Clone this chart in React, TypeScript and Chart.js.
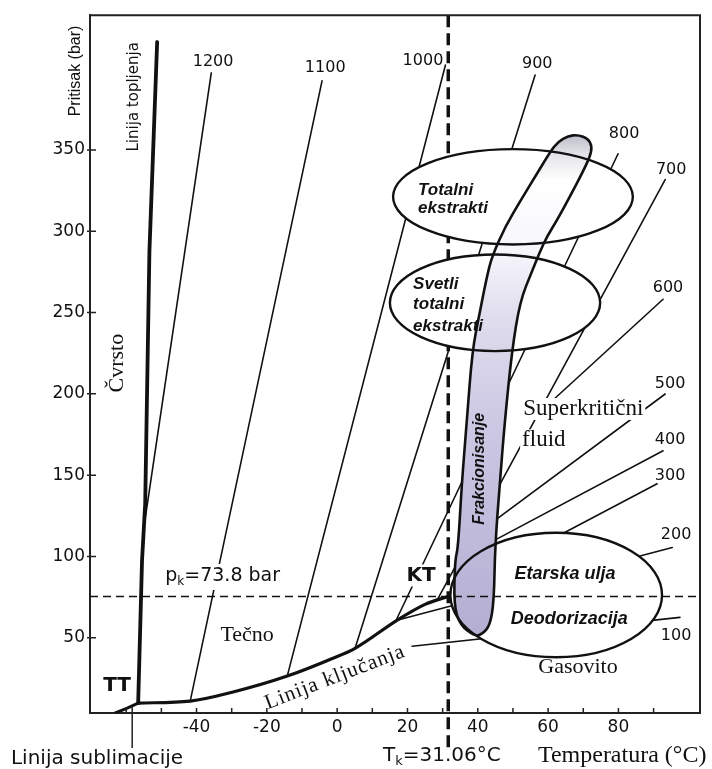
import React, { useEffect, useRef } from 'react';
import { Chart, registerables } from 'chart.js';
Chart.register(...registerables);

// ---------- axes ----------
const xMin = -70.3, xMax = 103.2;
const yMin = 3.7, yMax = 432.9;
const xTickLabels = [-40, -20, 0, 20, 40, 60, 80];
const xMinorTicks = [-60, -50, -40, -30, -20, -10, 0, 10, 20, 30, 40, 50, 60, 70, 80, 90];
const yTickLabels = [50, 100, 150, 200, 250, 300, 350];

// ---------- phase boundaries (T in °C, p in bar) ----------
const meltT = [-56.6, -55.5, -54.6, -53.4, -51.2];
const meltP = [9.8, 97.5, 132.5, 287.6, 416.4];
const sublT = [-63.1, -59.7, -56.6];
const sublP = [3.7, 6.7, 9.8];
const boilT = [-56.6, -41.8, -29.6, -14.2, -1.2, 5.1, 17.0, 25.0, 31.6];
const boilP = [9.8, 11.0, 16.6, 26.4, 37.4, 43.5, 60.7, 70.5, 75.4];

// critical point lines
const criticalT = 31.6;
const criticalP = 75.4;
const criticalLineBottomP = -17.8;

// ---------- isochors (kg/m3) ----------
const isoLabels = ['1200', '1100', '1000', '900', '800', '700', '600', '500', '400', '300', '200', '100'];
const isoStartT = [-54.9, -41.8, -14.2, 5.1, 16.5, 28.7, 61.1, 42.1, 43.5, 57.7, 17.0, 21.3];
const isoStartP = [119, 11.0, 26.4, 43.5, 59.5, 74.2, 195.6, 117.7, 108.5, 106.7, 60.7, 44.8];
const isoEndT = [-35.8, -4.3, 30.8, 56.3, 79.9, 93.3, 92.7, 93.3, 92.7, 91.0, 95.3, 97.5];
const isoEndP = [397.4, 392.5, 402.3, 396.1, 347.7, 331.8, 258.2, 199.9, 165.0, 144.7, 105.5, 62.5];
const isoLabelT = [-35.3, -3.4, 24.4, 56.9, 81.6, 95.0, 94.1, 94.7, 94.7, 94.7, 96.4, 96.4];
const isoLabelP = [404.1, 400.4, 404.7, 402.9, 360.0, 337.9, 265.5, 206.0, 171.7, 149.6, 113.4, 50.9];

// ---------- extraction regions (ellipses) ----------
const regionCenterT = [50.0, 44.9, 62.3];
const regionCenterP = [321.2, 256.0, 76.3];
const regionRadiusT = [34.1, 29.9, 30.1];
const regionRadiusP = [29.3, 29.7, 38.3];

// ---------- fractionation region outline ----------
const fracT = [39.2, 35.0, 33.2, 33.5, 34.4, 35.5, 36.9, 38.4, 40.6, 42.9, 44.3, 47.8, 52.0, 56.3, 60.6, 62.8, 65.7, 68.5, 71.4, 72.5, 71.9, 69.9, 66.2, 62.3, 59.7, 57.7, 55.4, 52.0, 49.7, 47.7, 46.3, 44.9, 44.6, 43.5, 41.2];
const fracP = [50.9, 57.6, 69.9, 97.5, 105.5, 146.6, 183.4, 226.3, 250.8, 275.3, 285.8, 302.9, 318.3, 333.6, 348.9, 355.1, 358.7, 359.3, 356.9, 352.0, 345.9, 336.7, 321.3, 306.0, 296.8, 287.6, 275.3, 256.9, 226.3, 183.4, 146.6, 105.5, 73.0, 57.6, 52.1];

// sublimation leader
const leaderT = -58.3;
const leaderP = [7.9, -17.8];

const SANS = '"DejaVu Sans", sans-serif';
const ARIAL = '"Liberation Sans", Arial, sans-serif';
const SERIF = '"Liberation Serif", "Times New Roman", serif';

type Ann = { text: string; t: number; p: number; font: string; rot?: number; align?: CanvasTextAlign; bg?: boolean; spacing?: number };
const annotations: Ann[] = [
  { text: 'Pritisak (bar)', t: -74.5, p: 398.6, font: `16px ${ARIAL}`, rot: -90 },
  { text: 'Linija topljenja', t: -57.7, p: 382.7, font: `15px ${SANS}`, rot: -90 },
  { text: 'Čvrsto', t: -62.6, p: 218.9, font: `22px ${SERIF}`, rot: -90 },
  { text: 'TT', t: -62.6, p: 20.2, font: `bold 20px ${SANS}` },
  { text: 'Tečno', t: -25.6, p: 51.5, font: `22px ${SERIF}` },
  { text: 'Linija ključanja', t: -0.6, p: 25.6, font: `21px ${SERIF}`, rot: -21, spacing: 1 },
  { text: 'KT', t: 23.9, p: 88.3, font: `bold 20px ${SANS}`, bg: true },
  { text: 'Totalni', t: 23.0, p: 325.3, font: `bold italic 17px ${ARIAL}`, align: 'left' },
  { text: 'ekstrakti', t: 23.0, p: 314.3, font: `bold italic 17px ${ARIAL}`, align: 'left' },
  { text: 'Svetli', t: 21.6, p: 267.1, font: `bold italic 17px ${ARIAL}`, align: 'left' },
  { text: 'totalni', t: 21.6, p: 254.8, font: `bold italic 17px ${ARIAL}`, align: 'left' },
  { text: 'ekstrakti', t: 21.6, p: 241.6, font: `bold italic 17px ${ARIAL}`, align: 'left' },
  { text: 'Superkritični', t: 70.0, p: 190.7, font: `23px ${SERIF}`, bg: true },
  { text: 'fluid', t: 52.6, p: 171.4, font: `23px ${SERIF}`, align: 'left', bg: true },
  { text: 'Frakcionisanje', t: 40.6, p: 153.9, font: `bold italic 16px ${ARIAL}`, rot: -90 },
  { text: 'Etarska ulja', t: 64.8, p: 88.9, font: `bold italic 18px ${ARIAL}` },
  { text: 'Deodorizacija', t: 66.0, p: 61.6, font: `bold italic 18px ${ARIAL}` },
  { text: 'Gasovito', t: 68.5, p: 31.6, font: `22px ${SERIF}` },
  { text: 'Linija sublimacije', t: -68.3, p: -24.5, font: `20px ${SANS}` },
  { text: 'Temperatura (°C)', t: 57.1, p: -22.7, font: `24px ${SERIF}`, align: 'left' },
];
type Part = { s: string; sub?: boolean };
const subLabels: { parts: Part[]; t: number; p: number; size: number; bg?: boolean }[] = [
  { parts: [{ s: 'p' }, { s: 'k', sub: true }, { s: '=73.8 bar' }], t: -48.9, p: 88.0, size: 19, bg: true },
  { parts: [{ s: 'T' }, { s: 'k', sub: true }, { s: '=31.06°C' }], t: 13.05, p: -22.7, size: 20 },
];

const pts = (T: number[], P: number[]) => T.map((t, i) => ({ x: t, y: P[i] }));
const lineDs = (T: number[], P: number[], w: number, mono = false) => ({
  data: pts(T, P), showLine: true, borderColor: '#111', borderWidth: w, pointRadius: 0,
  fill: false, tension: 0, cubicInterpolationMode: mono ? 'monotone' : 'default',
  borderJoinStyle: 'round', borderCapStyle: 'round',
});

const overlay = {
  id: 'overlay',
  afterDatasetsDraw(chart: any) {
    const { ctx, chartArea: a } = chart;
    const xs = chart.scales.x, ys = chart.scales.y;
    const X = (t: number) => xs.getPixelForValue(t);
    const Y = (p: number) => ys.getPixelForValue(p);
    ctx.save();
    // critical temperature line
    ctx.strokeStyle = '#111';
    ctx.lineWidth = 3.5;
    ctx.setLineDash([12, 6]);
    ctx.beginPath();
    ctx.moveTo(X(criticalT), a.top);
    ctx.lineTo(X(criticalT), Y(criticalLineBottomP));
    ctx.stroke();
    ctx.setLineDash([]);

    // ellipse fills
    const ell = (i: number) => {
      const cx = X(regionCenterT[i]), cy = Y(regionCenterP[i]);
      const rx = Math.abs(X(regionCenterT[i] + regionRadiusT[i]) - cx);
      const ry = Math.abs(Y(regionCenterP[i] + regionRadiusP[i]) - cy);
      ctx.beginPath();
      ctx.ellipse(cx, cy, rx, ry, 0, 0, Math.PI * 2);
    };
    for (let i = 0; i < regionCenterT.length; i++) { ell(i); ctx.fillStyle = '#fff'; ctx.fill(); }

    // fractionation capsule
    const cp = fracT.map((t, i) => [X(t), Y(fracP[i])]);
    const capsule = () => {
      const n = cp.length;
      const mid = (u: number[], v: number[]) => [(u[0] + v[0]) / 2, (u[1] + v[1]) / 2];
      const m0 = mid(cp[n - 1], cp[0]);
      ctx.beginPath();
      ctx.moveTo(m0[0], m0[1]);
      for (let i = 0; i < n; i++) {
        const p = cp[i], q = cp[(i + 1) % n];
        const m = mid(p, q);
        ctx.quadraticCurveTo(p[0], p[1], m[0], m[1]);
      }
      ctx.closePath();
    };
    const top = Y(Math.max(...fracP)), bot = Y(Math.min(...fracP));
    const g = ctx.createLinearGradient(0, top, 0, bot);
    g.addColorStop(0, '#bdbdc8');
    g.addColorStop(0.04, '#e4e4ea');
    g.addColorStop(0.09, '#ffffff');
    g.addColorStop(0.23, '#f7f6fb');
    g.addColorStop(0.36, '#e0ddee');
    g.addColorStop(0.6, '#cbc6e2');
    g.addColorStop(1, '#b4aed2');
    capsule();
    ctx.fillStyle = g;
    ctx.fill();

    // outlines
    ctx.lineWidth = 2.4;
    ctx.strokeStyle = '#111';
    for (let i = 0; i < regionCenterT.length; i++) { ell(i); ctx.stroke(); }
    capsule();
    ctx.lineWidth = 2.6;
    ctx.stroke();

    // critical pressure line
    ctx.lineWidth = 1.5;
    ctx.setLineDash([8, 5]);
    ctx.beginPath();
    ctx.moveTo(a.left, Y(criticalP));
    ctx.lineTo(a.right, Y(criticalP));
    ctx.stroke();
    ctx.setLineDash([]);

    // frame (top, right)
    ctx.lineWidth = 2;
    ctx.strokeStyle = '#222';
    ctx.beginPath();
    ctx.moveTo(a.left, a.top);
    ctx.lineTo(a.right, a.top);
    ctx.lineTo(a.right, a.bottom);
    ctx.stroke();

    // tick marks (inside)
    ctx.lineWidth = 1.5;
    ctx.beginPath();
    xMinorTicks.forEach((v) => { const x = X(v); ctx.moveTo(x, a.bottom); ctx.lineTo(x, a.bottom - 5); });
    yTickLabels.forEach((v) => { const y = Y(v); ctx.moveTo(a.left - 3, y); ctx.lineTo(a.left + 6, y); });
    ctx.stroke();

    // sublimation leader
    ctx.lineWidth = 1.5;
    ctx.beginPath();
    ctx.moveTo(X(leaderT), Y(leaderP[0]));
    ctx.lineTo(X(leaderT), Y(leaderP[1]));
    ctx.stroke();

    // texts
    ctx.textBaseline = 'middle';
    const drawAnn = (an: Ann) => {
      ctx.save();
      ctx.translate(X(an.t), Y(an.p));
      if (an.rot) ctx.rotate((an.rot * Math.PI) / 180);
      ctx.font = an.font;
      (ctx as any).letterSpacing = `${an.spacing || 0}px`;
      ctx.textAlign = an.align || 'center';
      const w = ctx.measureText(an.text).width;
      if (an.bg) {
        const x0 = an.align === 'left' ? 0 : -w / 2;
        ctx.fillStyle = '#fff';
        ctx.fillRect(x0 - 2, -11, w + 4, 22);
      }
      ctx.fillStyle = '#111';
      ctx.fillText(an.text, 0, 0);
      ctx.restore();
    };
    annotations.forEach(drawAnn);
    isoLabels.forEach((s, i) => drawAnn({ text: s, t: isoLabelT[i], p: isoLabelP[i], font: `16px ${SANS}` }));

    subLabels.forEach((sl) => {
      const x0 = X(sl.t), y0 = Y(sl.p);
      const big = `${sl.size}px ${SANS}`, small = `${Math.round(sl.size * 0.65)}px ${SANS}`;
      let total = 0;
      sl.parts.forEach((pt) => { ctx.font = pt.sub ? small : big; total += ctx.measureText(pt.s).width; });
      if (sl.bg) { ctx.fillStyle = '#fff'; ctx.fillRect(x0 - 2, y0 - 12, total + 4, 26); }
      let x = x0;
      ctx.textAlign = 'left';
      ctx.fillStyle = '#111';
      sl.parts.forEach((pt) => {
        ctx.font = pt.sub ? small : big;
        ctx.fillText(pt.s, x, pt.sub ? y0 + 6 : y0);
        x += ctx.measureText(pt.s).width;
      });
    });
    ctx.restore();
  },
};

export default function App() {
  const ref = useRef<HTMLCanvasElement>(null);
  useEffect(() => {
    document.body.style.margin = '0';
    const datasets: any[] = [
      lineDs(meltT, meltP, 3.8),
      lineDs(sublT, sublP, 3),
      lineDs(boilT, boilP, 3.2, true),
      ...isoLabels.map((_, i) => lineDs([isoStartT[i], isoEndT[i]], [isoStartP[i], isoEndP[i]], 1.6)),
    ];
    const chart = new Chart(ref.current as HTMLCanvasElement, {
      type: 'scatter',
      data: { datasets },
      options: {
        responsive: false,
        animation: false,
        devicePixelRatio: 1,
        layout: { padding: { top: 13, right: 12, left: 0, bottom: 0 } },
        plugins: { legend: { display: false }, tooltip: { enabled: false } },
        scales: {
          x: {
            type: 'linear', min: xMin, max: xMax,
            grid: { display: false, drawTicks: false },
            border: { display: true, color: '#222', width: 2 },
            ticks: { font: { family: '"DejaVu Sans"', size: 17 }, color: '#111', padding: 4, autoSkip: false, maxRotation: 0 },
            afterBuildTicks: (s: any) => { s.ticks = xTickLabels.map((v) => ({ value: v })); },
            afterFit: (s: any) => { s.height = 56; },
          },
          y: {
            type: 'linear', min: yMin, max: yMax,
            grid: { display: false, drawTicks: false },
            border: { display: true, color: '#222', width: 2 },
            ticks: { font: { family: '"DejaVu Sans"', size: 17 }, color: '#111', padding: 5, autoSkip: false },
            afterBuildTicks: (s: any) => { s.ticks = yTickLabels.map((v) => ({ value: v })); },
            afterFit: (s: any) => { s.width = 90; },
          },
        },
      } as any,
      plugins: [overlay],
    });
    return () => chart.destroy();
  }, []);
  return (
    <div style={{ width: 712, height: 769, background: '#fff' }}>
      <canvas ref={ref} width={712} height={769} style={{ display: 'block' }} />
    </div>
  );
}
